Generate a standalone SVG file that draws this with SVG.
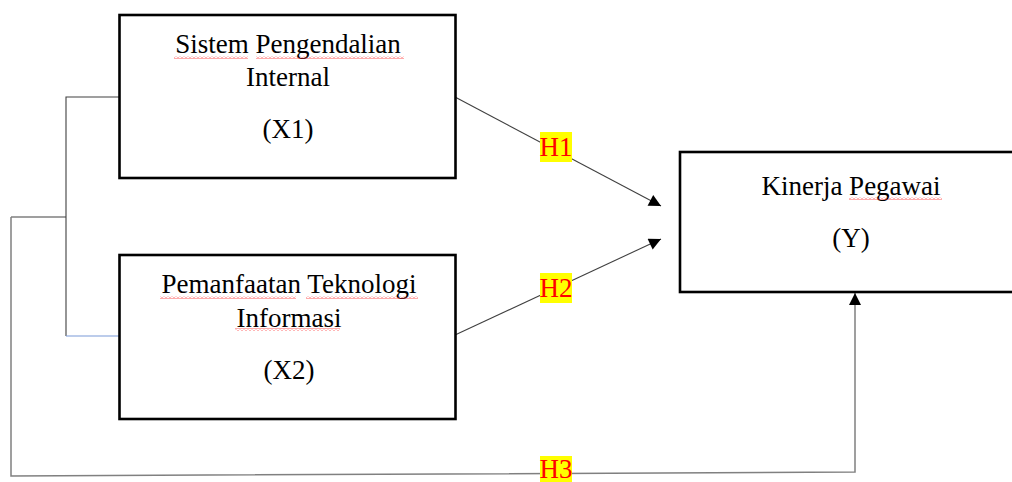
<svg xmlns="http://www.w3.org/2000/svg" width="1012" height="482" viewBox="0 0 1012 482">
<style>
.box{fill:#fff;stroke:#000;stroke-width:2.6}
.t{font-family:"Liberation Serif","Times New Roman",serif;font-size:27px;fill:#000;text-anchor:middle}
.h{font-family:"Liberation Serif","Times New Roman",serif;font-size:27px;fill:#ff0000;text-anchor:middle}
.hl{fill:#ffff00}
.c{fill:none;stroke:#404040;stroke-width:1.1}
.g{fill:none;stroke:#808080;stroke-width:1.5}
</style>
<defs>
<marker id="arr" viewBox="0 0 12 12" refX="12" refY="6" markerWidth="13" markerHeight="12" markerUnits="userSpaceOnUse" orient="auto">
<path d="M0,0 L12,6 L0,12 z" fill="#000"/>
</marker>
<pattern id="wave" x="0" y="0" width="4" height="3" patternUnits="userSpaceOnUse">
<path d="M0,2.5 L2,0.5 L4,2.5" fill="none" stroke="#ff3030" stroke-width="0.8"/>
</pattern>
</defs>
<rect width="1012" height="482" fill="#fff"/>
<g id="connectors">
<path class="c" d="M119,97 H66 V336"/>
<path d="M66,336 H119" fill="none" stroke="#7a9ad8" stroke-width="1.1"/>
<path class="c" d="M66,217 H11"/>
<path class="g" d="M11,217 V476 L855,472 V293" marker-end="url(#arr)"/>
<path class="c" d="M455,97 L661,206" marker-end="url(#arr)"/>
<path class="c" d="M455,335 L661,239" marker-end="url(#arr)"/>
<g id="label-h1"><rect class="hl" x="540" y="132" width="32" height="30"/><text class="h" x="556" y="156">H1</text></g>
<g id="label-h2"><rect class="hl" x="540" y="273" width="32" height="30"/><text class="h" x="556" y="297">H2</text></g>
<g id="label-h3"><rect class="hl" x="540" y="456" width="32" height="26"/><text class="h" x="556" y="478">H3</text></g>
</g>
<g id="node-x1">
<rect class="box" x="119.5" y="15" width="336" height="163"/>
<text class="t" x="288" y="53">Sistem Pengendalian</text>
<text class="t" x="288" y="86">Internal</text>
<text class="t" x="288" y="138">(X1)</text>
<rect x="174" y="56" width="74" height="3" fill="url(#wave)"/>
<rect x="256" y="56" width="148" height="3" fill="url(#wave)"/>
</g>
<g id="node-x2">
<rect class="box" x="119.5" y="255" width="336" height="164"/>
<text class="t" x="289" y="293">Pemanfaatan Teknologi</text>
<text class="t" x="289" y="327">Informasi</text>
<text class="t" x="289" y="379">(X2)</text>
<rect x="160" y="296" width="136" height="3" fill="url(#wave)"/>
<rect x="306" y="296" width="112" height="3" fill="url(#wave)"/>
<rect x="235" y="328" width="105" height="3" fill="url(#wave)"/>
</g>
<g id="node-y">
<rect class="box" x="680" y="152" width="350" height="140"/>
<text class="t" x="851" y="195">Kinerja Pegawai</text>
<text class="t" x="851" y="247">(Y)</text>
<rect x="849" y="197" width="93" height="3" fill="url(#wave)"/>
</g>
</svg>
